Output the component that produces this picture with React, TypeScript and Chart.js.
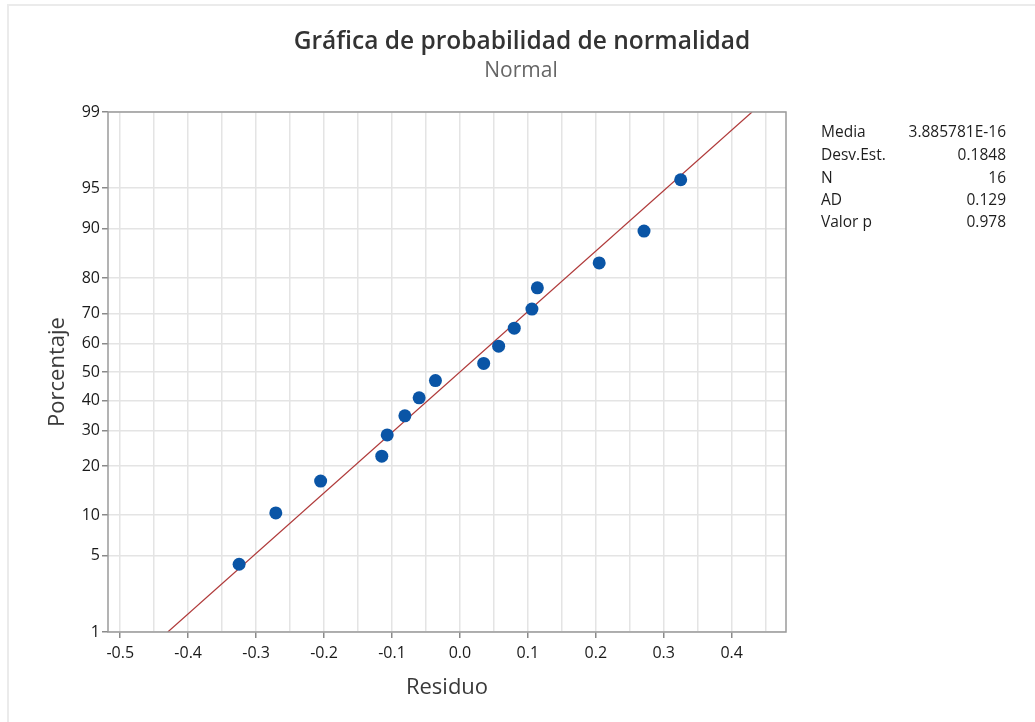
import React, { useEffect, useRef } from "react";
import { Chart, registerables } from "chart.js";

Chart.register(...registerables);

// ---- data ----
const residuals = [-0.325, -0.271, -0.205, -0.115, -0.107, -0.081, -0.060, -0.036, 0.035, 0.057, 0.080, 0.106, 0.114, 0.205, 0.271, 0.325];
const percents = [4.27, 10.37, 16.46, 22.56, 28.66, 34.76, 40.85, 46.95, 53.05, 59.15, 65.24, 71.34, 77.44, 83.54, 89.63, 95.73];
const fitX = [-0.43, 0.43];
const fitPct = [1, 99];
const yTickPct = [1, 5, 10, 20, 30, 40, 50, 60, 70, 80, 90, 95, 99];
const xGridValues = [-0.5, -0.45, -0.4, -0.35, -0.3, -0.25, -0.2, -0.15, -0.1, -0.05, 0, 0.05, 0.1, 0.15, 0.2, 0.25, 0.3, 0.35, 0.4, 0.45];
const statLabels = ["Media", "Desv.Est.", "N", "AD", "Valor p"];
const statValues = ["3.885781E-16", "0.1848", "16", "0.129", "0.978"];
const titleText = "Gráfica de probabilidad de normalidad";
const subtitleText = "Normal";
const xTitle = "Residuo";
const yTitle = "Porcentaje";

// inverse standard normal CDF (Acklam)
function probit(p: number): number {
  const a = [-3.969683028665376e1, 2.209460984245205e2, -2.759285104469687e2, 1.38357751867269e2, -3.066479806614716e1, 2.506628277459239];
  const b = [-5.447609879822406e1, 1.615858368580409e2, -1.556989798598866e2, 6.680131188771972e1, -1.328068155288572e1];
  const c = [-7.784894002430293e-3, -3.223964580411365e-1, -2.400758277161838, -2.549732539343734, 4.374664141464968, 2.938163982698783];
  const d = [7.784695709041462e-3, 3.224671290700398e-1, 2.445134137142996, 3.754408661907416];
  const pl = 0.02425;
  let q: number, r: number;
  if (p < pl) {
    q = Math.sqrt(-2 * Math.log(p));
    return (((((c[0] * q + c[1]) * q + c[2]) * q + c[3]) * q + c[4]) * q + c[5]) / ((((d[0] * q + d[1]) * q + d[2]) * q + d[3]) * q + 1);
  } else if (p <= 1 - pl) {
    q = p - 0.5;
    r = q * q;
    return ((((((a[0] * r + a[1]) * r + a[2]) * r + a[3]) * r + a[4]) * r + a[5]) * q) / (((((b[0] * r + b[1]) * r + b[2]) * r + b[3]) * r + b[4]) * r + 1);
  } else {
    q = Math.sqrt(-2 * Math.log(1 - p));
    return -(((((c[0] * q + c[1]) * q + c[2]) * q + c[3]) * q + c[4]) * q + c[5]) / ((((d[0] * q + d[1]) * q + d[2]) * q + d[3]) * q + 1);
  }
}

const FONT = "'Open Sans', 'Noto Sans', sans-serif";
const isMajor = (v: number) => Math.abs(Math.round(v * 10) - v * 10) < 1e-6;

const decorPlugin = {
  id: "decor",
  beforeDraw(chart: any) {
    const ctx = chart.ctx;
    ctx.save();
    ctx.fillStyle = "#ffffff";
    ctx.fillRect(0, 0, chart.width, chart.height);
    ctx.strokeStyle = "#ebebeb";
    ctx.lineWidth = 2;
    ctx.beginPath();
    ctx.moveTo(8, chart.height);
    ctx.lineTo(8, 5);
    ctx.lineTo(chart.width, 5);
    ctx.stroke();
    ctx.restore();
  },
  afterDraw(chart: any) {
    const ctx = chart.ctx;
    const a = chart.chartArea;
    ctx.save();
    ctx.strokeStyle = "#9a9a9a";
    ctx.lineWidth = 1.5;
    ctx.strokeRect(a.left, a.top, a.right - a.left, a.bottom - a.top);

    ctx.textAlign = "center";
    ctx.textBaseline = "middle";
    ctx.fillStyle = "#333333";
    ctx.font = `600 24.5px ${FONT}`;
    ctx.fillText(titleText, 522, 42);
    ctx.fillStyle = "#666666";
    ctx.font = `21px ${FONT}`;
    ctx.fillText(subtitleText, 521, 71);

    ctx.fillStyle = "#3a3a3a";
    ctx.font = `22px ${FONT}`;
    ctx.fillText(xTitle, (a.left + a.right) / 2, 688);
    ctx.save();
    ctx.translate(58, (a.top + a.bottom) / 2);
    ctx.rotate(-Math.PI / 2);
    ctx.fillText(yTitle, 0, 0);
    ctx.restore();

    ctx.fillStyle = "#1e1e1e";
    ctx.font = `15.5px ${FONT}`;
    const rows = [133, 156, 179, 201, 223];
    statLabels.forEach((l, i) => {
      ctx.textAlign = "left";
      ctx.fillText(l, 821, rows[i]);
      ctx.textAlign = "right";
      ctx.fillText(statValues[i], 1006, rows[i]);
    });
    ctx.restore();
  },
};

export default function App() {
  const ref = useRef<HTMLCanvasElement | null>(null);
  useEffect(() => {
    if (!ref.current) return;
    const chart = new Chart(ref.current, {
      type: "scatter",
      data: {
        datasets: [
          {
            label: "Residuos",
            data: residuals.map((x, i) => ({ x, y: probit(percents[i] / 100) })),
            backgroundColor: "#0a55a6",
            borderWidth: 0,
            pointRadius: 6.5,
            order: 0,
          },
          {
            label: "Ajuste",
            data: fitX.map((x, i) => ({ x, y: probit(fitPct[i] / 100) })),
            showLine: true,
            borderColor: "#b03a3a",
            borderWidth: 1.2,
            pointRadius: 0,
            order: 1,
          },
        ],
      },
      options: {
        responsive: false,
        animation: false,
        layout: { padding: { top: 112, right: 249, left: 0, bottom: 0 } },
        plugins: { legend: { display: false }, tooltip: { enabled: false }, title: { display: false } },
        scales: {
          x: {
            type: "linear",
            min: -0.518,
            max: 0.48,
            afterBuildTicks: (s: any) => {
              s.ticks = xGridValues.map((v) => ({ value: v }));
            },
            afterFit: (s: any) => {
              s.height = 90;
            },
            ticks: {
              autoSkip: false,
              maxRotation: 0,
              padding: 6,
              color: "#1a1a1a",
              font: { family: FONT, size: 16 },
              callback: (v: any) => (isMajor(Number(v)) ? Number(v).toFixed(1) : ""),
            },
            grid: {
              color: "#e4e4e4",
              lineWidth: 1.5,
              drawTicks: true,
              tickLength: 6,
              tickColor: (c: any) => (c.tick && isMajor(c.tick.value) ? "#8a8a8a" : "rgba(0,0,0,0)"),
            },
            border: { display: false },
          },
          y: {
            type: "linear",
            min: probit(0.01),
            max: probit(0.99),
            afterBuildTicks: (s: any) => {
              s.ticks = yTickPct.map((p) => ({ value: probit(p / 100) }));
            },
            afterFit: (s: any) => {
              s.width = 108;
            },
            ticks: {
              autoSkip: false,
              padding: 2,
              color: "#1a1a1a",
              font: { family: FONT, size: 16 },
              callback: (_v: any, i: number) => String(yTickPct[i]),
            },
            grid: {
              color: "#e4e4e4",
              lineWidth: 1.5,
              drawTicks: true,
              tickLength: 6,
              tickColor: "#8a8a8a",
            },
            border: { display: false },
          },
        },
      },
      plugins: [decorPlugin],
    });
    return () => chart.destroy();
  }, []);
  return (
    <div style={{ position: "absolute", left: 0, top: 0, width: 1035, height: 722 }}>
      <canvas ref={ref} width={1035} height={722} style={{ display: "block" }} />
    </div>
  );
}
